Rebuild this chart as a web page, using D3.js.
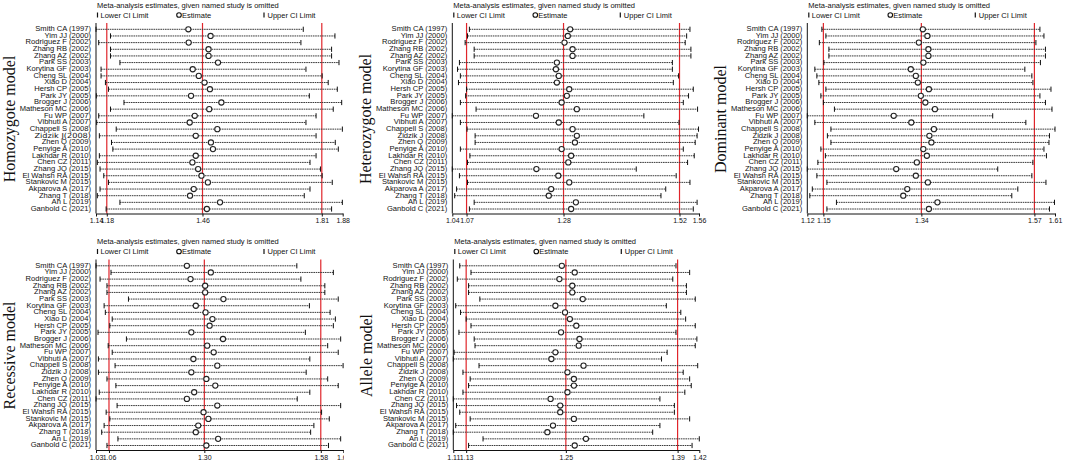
<!DOCTYPE html>
<html>
<head>
<meta charset="utf-8">
<script src="https://cdn.jsdelivr.net/npm/d3@7"></script>
<style>
  body { margin: 0; background: #fff; }
  svg { display: block; }
  text { font-family: "Liberation Sans", Arial, sans-serif; fill: #111; }
</style>
</head>
<body>
<script>
// study order (top to bottom), same in every panel
var studies = ["Smith CA (1997)", "Yim JJ (2000)", "Rodriguez F (2002)", "Zhang RB (2002)", "Zhang AZ (2002)",
  "Park SS (2003)", "Korytina GF (2003)", "Cheng SL (2004)", "Xiao D (2004)", "Hersh CP (2005)",
  "Park JY (2005)", "Brogger J (2006)", "Matheson MC (2006)", "Fu WP (2007)", "Vibhuti A (2007)",
  "Chappell S (2008)", "Zidzik J (2008)", "Zhen Q (2009)", "Penyige A (2010)", "Lakhdar R (2010)",
  "Chen CZ (2011)", "Zhang JQ (2015)", "El Wahsh RA (2015)", "Stankovic M (2015)", "Akparova A (2017)",
  "Zhang T (2018)", "An L (2019)", "Ganbold C (2021)"];

// homozygote model
var homLower = [1.144,1.187,1.152,1.187,1.187,1.215,1.159,1.159,1.172,1.181,1.145,1.227,1.187,1.152,1.146,1.204,1.154,1.190,1.194,1.154,1.148,1.156,1.167,1.181,1.156,1.148,1.215,1.174];
var homEst = [1.418,1.484,1.419,1.478,1.478,1.506,1.431,1.449,1.466,1.482,1.426,1.516,1.480,1.437,1.422,1.504,1.440,1.485,1.491,1.440,1.430,1.447,1.457,1.476,1.434,1.423,1.512,1.473];
var homUpper = [1.759,1.853,1.752,1.843,1.843,1.865,1.767,1.815,1.833,1.860,1.777,1.873,1.848,1.797,1.767,1.875,1.797,1.854,1.863,1.797,1.779,1.810,1.815,1.845,1.779,1.762,1.875,1.843];
var homTicks = [1.144, 1.176, 1.46, 1.814, 1.876];

// heterozygote model
var hetLower = [1.080,1.076,1.071,1.090,1.090,1.059,1.055,1.061,1.057,1.074,1.072,1.061,1.094,1.044,1.061,1.075,1.092,1.092,1.061,1.081,1.076,1.044,1.059,1.076,1.053,1.049,1.090,1.080];
var hetEst = [1.292,1.287,1.280,1.297,1.297,1.264,1.262,1.268,1.264,1.290,1.285,1.274,1.306,1.220,1.268,1.297,1.306,1.302,1.274,1.294,1.288,1.221,1.267,1.290,1.252,1.247,1.304,1.294];
var hetUpper = [1.544,1.537,1.534,1.546,1.546,1.507,1.507,1.520,1.509,1.551,1.541,1.530,1.560,1.447,1.521,1.562,1.559,1.555,1.530,1.553,1.539,1.431,1.515,1.544,1.493,1.483,1.559,1.551];
var hetTicks = [1.044, 1.074, 1.278, 1.522, 1.563];

// dominant model
var domLower = [1.145,1.153,1.140,1.159,1.159,1.149,1.131,1.135,1.139,1.153,1.143,1.148,1.170,1.116,1.131,1.163,1.156,1.163,1.143,1.152,1.137,1.116,1.135,1.155,1.126,1.121,1.174,1.155];
var domEst = [1.346,1.355,1.338,1.357,1.357,1.347,1.322,1.332,1.336,1.358,1.342,1.351,1.370,1.288,1.323,1.368,1.359,1.363,1.347,1.354,1.334,1.293,1.332,1.356,1.315,1.307,1.375,1.358];
var domUpper = [1.579,1.587,1.571,1.590,1.590,1.580,1.549,1.563,1.565,1.601,1.579,1.590,1.603,1.485,1.551,1.609,1.598,1.597,1.587,1.592,1.565,1.495,1.563,1.591,1.535,1.523,1.608,1.598];
var domTicks = [1.116, 1.148, 1.343, 1.568, 1.609];

// recessive model
var recLower = [1.029,1.066,1.039,1.056,1.056,1.109,1.049,1.052,1.069,1.063,1.034,1.104,1.059,1.069,1.035,1.076,1.035,1.056,1.078,1.037,1.029,1.081,1.054,1.063,1.049,1.043,1.083,1.056];
var recEst = [1.253,1.312,1.262,1.298,1.298,1.343,1.275,1.299,1.316,1.309,1.264,1.342,1.303,1.319,1.269,1.328,1.264,1.301,1.323,1.271,1.253,1.328,1.294,1.306,1.281,1.275,1.330,1.301];
var recUpper = [1.524,1.614,1.534,1.593,1.593,1.626,1.555,1.606,1.619,1.614,1.545,1.632,1.600,1.626,1.556,1.638,1.547,1.600,1.626,1.556,1.525,1.632,1.585,1.604,1.566,1.558,1.632,1.602];
var recTicks = [1.029, 1.061, 1.296, 1.583, 1.6385];

// allele model
var allLower = [1.118,1.132,1.115,1.129,1.129,1.143,1.113,1.119,1.126,1.132,1.117,1.136,1.137,1.111,1.110,1.142,1.122,1.131,1.129,1.122,1.110,1.114,1.118,1.131,1.113,1.110,1.147,1.129];
var allEst = [1.245,1.261,1.242,1.258,1.258,1.271,1.237,1.249,1.255,1.263,1.244,1.267,1.266,1.237,1.232,1.272,1.252,1.260,1.260,1.252,1.231,1.243,1.243,1.260,1.234,1.227,1.275,1.261];
var allUpper = [1.387,1.404,1.383,1.400,1.400,1.411,1.375,1.393,1.399,1.411,1.387,1.413,1.411,1.376,1.369,1.414,1.396,1.404,1.406,1.398,1.367,1.385,1.385,1.404,1.367,1.358,1.416,1.407];
var allTicks = [1.110, 1.126, 1.250, 1.389, 1.416];

var panels = [
  {title: "Homozygote model", lower: homLower, est: homEst, upper: homUpper, ticks: homTicks, x0: 96, x1: 342.7, dy: 0},
  {title: "Heterozygote model", lower: hetLower, est: hetEst, upper: hetUpper, ticks: hetTicks, x0: 452.3, x1: 699, dy: 0},
  {title: "Dominant model", lower: domLower, est: domEst, upper: domUpper, ticks: domTicks, x0: 807.3, x1: 1055, dy: 0},
  {title: "Recessive model", lower: recLower, est: recEst, upper: recUpper, ticks: recTicks, x0: 96, x1: 343.3, dy: 236.5, clip: 344},
  {title: "Allele model", lower: allLower, est: allEst, upper: allUpper, ticks: allTicks, x0: 453.3, x1: 699.3, dy: 236.5}
];

var svg = d3.select('body').append('svg')
    .attr('width', 1065)
    .attr('height', 465);

var fmt = d3.format('.2f');

panels.forEach(function(p, pi) {
    var g = svg.append('g').attr('transform', 'translate(0,' + p.dy + ')');

    if (p.clip) {
        svg.append('clipPath').attr('id', 'clip' + pi)
            .append('rect').attr('x', 0).attr('y', 0).attr('width', p.clip).attr('height', 465);
        g.attr('clip-path', 'url(#clip' + pi + ')');
    }

    var x = d3.scaleLinear().domain([p.ticks[0], p.ticks[4]]).range([p.x0, p.x1]);
    var y = d3.scalePoint().domain(d3.range(studies.length)).range([29.3, 209]);
    var top = 23, axisY = 213.5;

    var rows = studies.map(function(name, i) {
        return {name: name, lower: p.lower[i], est: p.est[i], upper: p.upper[i], i: i};
    });

    // header
    g.append('text')
        .attr('x', p.x0 + 1).attr('y', 7.8)
        .attr('font-size', 7.5)
        .text('Meta-analysis estimates, given named study is omitted');

    var leg = g.append('g').attr('font-size', 7.5);
    leg.append('line').attr('x1', p.x0 + 1.5).attr('x2', p.x0 + 1.5).attr('y1', 12.5).attr('y2', 17.5)
        .attr('stroke', '#111').attr('stroke-width', 1.2);
    leg.append('text').attr('x', p.x0 + 4.5).attr('y', 17.8).text('Lower CI Limit');
    leg.append('circle').attr('cx', p.x0 + 83).attr('cy', 15).attr('r', 2.3)
        .attr('fill', 'none').attr('stroke', '#111').attr('stroke-width', 1.1);
    leg.append('text').attr('x', p.x0 + 86).attr('y', 17.8).text('Estimate');
    leg.append('line').attr('x1', p.x0 + 168).attr('x2', p.x0 + 168).attr('y1', 12.5).attr('y2', 17.5)
        .attr('stroke', '#111').attr('stroke-width', 1.2);
    leg.append('text').attr('x', p.x0 + 171.5).attr('y', 17.8).text('Upper CI Limit');

    // y title
    g.append('text')
        .attr('transform', 'translate(' + (p.x0 - 87) + ',' + 119 + ') rotate(-90)')
        .attr('text-anchor', 'middle')
        .attr('dominant-baseline', 'central')
        .style('font-family', '"Liberation Serif", "Times New Roman", serif')
        .attr('font-size', 16)
        .text(p.title);

    // study labels (slightly squashed vertically, as in the original)
    g.append('g').selectAll('text')
        .data(rows)
        .enter().append('text')
            .attr('transform', function(d) {
                return 'translate(' + (p.x0 - 5) + ',' + y(d.i) + ') scale(1,0.86)';
            })
            .attr('text-anchor', 'end')
            .attr('dominant-baseline', 'central')
            .attr('font-size', function(d) { return (pi === 0 && d.i === 16) ? 8.2 : 7.6; })
            .style('font-family', function(d) {
                return (pi === 0 && d.i === 16) ? '"DejaVu Sans", sans-serif' : null;
            })
            .text(function(d) { return (pi === 0 && d.i === 16) ? 'Zidzik J(2008)' : d.name; });

    // reference lines at overall lower CI, estimate, upper CI
    g.append('g').selectAll('line')
        .data(p.ticks.slice(1, 4))
        .enter().append('line')
            .attr('x1', function(d) { return x(d); })
            .attr('x2', function(d) { return x(d); })
            .attr('y1', top).attr('y2', axisY)
            .attr('stroke', '#e0252b')
            .attr('stroke-width', 1.2);

    // CI lines
    var ci = g.append('g').selectAll('g')
        .data(rows)
        .enter().append('g');

    ci.append('line')
        .attr('x1', function(d) { return x(d.lower); })
        .attr('x2', function(d) { return x(d.upper); })
        .attr('y1', function(d) { return y(d.i); })
        .attr('y2', function(d) { return y(d.i); })
        .attr('stroke', '#3a3a3a')
        .attr('stroke-width', 1)
        .attr('stroke-dasharray', '1.6,0.7');

    ci.append('line')
        .attr('x1', function(d) { return x(d.lower); })
        .attr('x2', function(d) { return x(d.lower); })
        .attr('y1', function(d) { return y(d.i) - 2.6; })
        .attr('y2', function(d) { return y(d.i) + 2.6; })
        .attr('stroke', '#111');

    ci.append('line')
        .attr('x1', function(d) { return x(d.upper); })
        .attr('x2', function(d) { return x(d.upper); })
        .attr('y1', function(d) { return y(d.i) - 2.6; })
        .attr('y2', function(d) { return y(d.i) + 2.6; })
        .attr('stroke', '#111');

    ci.append('circle')
        .attr('cx', function(d) { return x(d.est); })
        .attr('cy', function(d) { return y(d.i); })
        .attr('r', 2.6)
        .attr('fill', '#fff')
        .attr('stroke', '#222')
        .attr('stroke-width', 1.1);

    // left axis line
    g.append('line')
        .attr('x1', p.x0).attr('x2', p.x0)
        .attr('y1', top).attr('y2', axisY)
        .attr('stroke', '#111');

    // bottom axis
    var ax = g.append('g')
        .attr('transform', 'translate(0,' + axisY + ')')
        .call(d3.axisBottom(x).tickValues(p.ticks).tickFormat(fmt).tickSize(3).tickSizeOuter(0).tickPadding(2));
    ax.selectAll('text').attr('font-size', 7).style('font-family', '"Liberation Sans", Arial, sans-serif').attr('fill', '#111');
    ax.selectAll('path, line').attr('stroke', '#111');
});
</script>
</body>
</html>
